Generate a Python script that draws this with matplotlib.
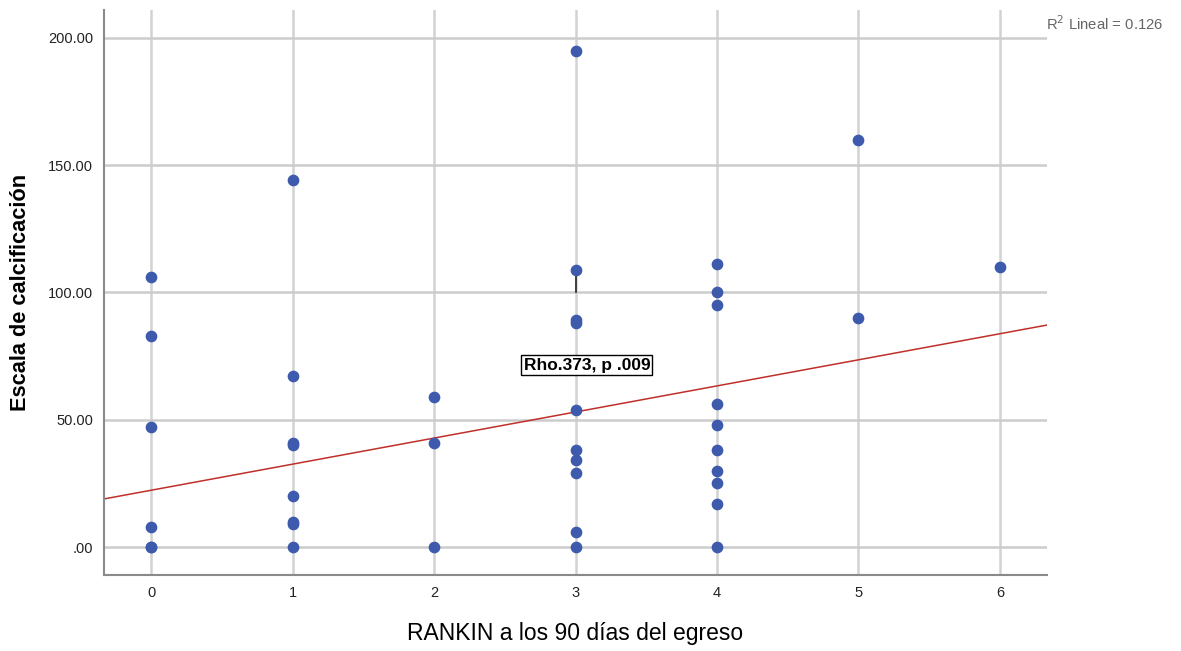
import numpy as np
import matplotlib.pyplot as plt

plt.rcParams["font.family"] = ["Liberation Sans", "DejaVu Sans"]

# RANKIN a los 90 dias del egreso vs escala de calcificacion
rankin = [0, 0, 0, 0, 0, 0,
          1, 1, 1, 1, 1, 1, 1, 1,
          2, 2, 2,
          3, 3, 3, 3, 3, 3, 3, 3, 3, 3,
          4, 4, 4, 4, 4, 4, 4, 4, 4, 4,
          5, 5,
          6]
calcificacion = [106, 83, 47, 8, 0, 0,
                 144, 67, 41, 40, 20, 10, 9, 0,
                 59, 41, 0,
                 195, 109, 89, 88, 54, 38, 34, 29, 6, 0,
                 111, 100, 95, 56, 48, 38, 30, 25, 17, 0,
                 160, 90,
                 110]
# recta lineal tal como aparece en el grafico (hay puntos superpuestos)
fit_intercept = 22.3
fit_slope = 10.25

x_ticks = [0, 1, 2, 3, 4, 5, 6]
y_ticks = [0, 50, 100, 150, 200]
y_ticklabels = [".00", "50.00", "100.00", "150.00", "200.00"]

fig = plt.figure(figsize=(11.81, 6.51), dpi=100)
ax = fig.add_axes([0.0881, 0.1167, 0.7984, 0.868])

x = np.array(rankin, dtype=float)
y = np.array(calcificacion, dtype=float)

xlim = (-0.332, 6.332)
ylim = (-11, 211)

# rejilla
for xv in x_ticks:
    ax.axvline(xv, color="#d2d2d2", lw=1.8, zorder=0)
for yv in y_ticks:
    ax.axhline(yv, color="#cccccc", lw=1.8, zorder=0)

# recta de ajuste
xs = np.array(xlim)
ax.plot(xs, fit_intercept + fit_slope * xs, color="#c0302a", lw=1.1, zorder=2)

ax.scatter(x, y, s=55, color="#3d5aad", edgecolors="#3d5aad", zorder=3)

# etiqueta de la correlacion
ax.plot([3, 3], [100, 108.5], color="#333333", lw=1.3, zorder=2)
ax.text(3.08, 71.5, "Rho.373, p .009", ha="center", va="center", fontsize=12.5,
        fontweight="bold", zorder=4,
        bbox=dict(boxstyle="square,pad=0.12", fc="white", ec="black", lw=1))

ax.set_xlim(*xlim)
ax.set_ylim(*ylim)
ax.set_xticks(x_ticks)
ax.set_yticks(y_ticks)
ax.set_yticklabels(y_ticklabels)
ax.tick_params(length=0, labelsize=10.5, colors="#222222", pad=8)

for s in ["top", "right"]:
    ax.spines[s].set_visible(False)
for s in ["left", "bottom"]:
    ax.spines[s].set_color("#8a8a8a")
    ax.spines[s].set_linewidth(1.5)

ax.set_xlabel("RANKIN a los 90 días del egreso", fontsize=16.5, labelpad=16)
ax.set_ylabel("Escala de calcificación", fontsize=15.7, fontweight="bold", labelpad=12)

fig.text(0.985, 0.963, "R$^2$ Lineal = 0.126", ha="right", va="center",
         fontsize=10.7, color="#666666")

fig.savefig("out.png", dpi=100)
